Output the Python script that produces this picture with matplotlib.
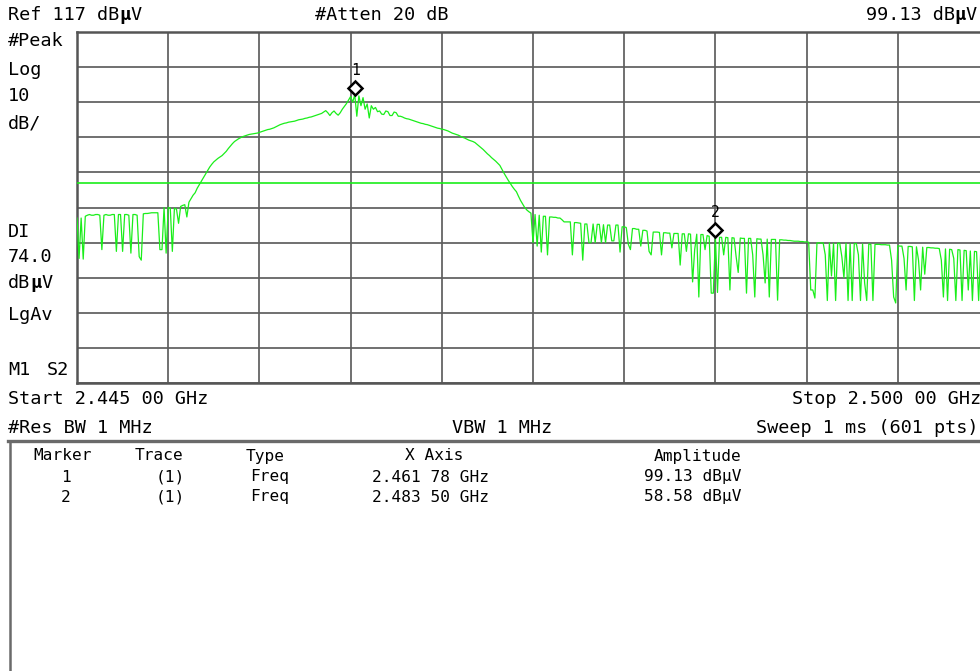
import numpy as np
import matplotlib
matplotlib.use("Agg")
import matplotlib.pyplot as plt
from matplotlib import transforms

# ---------------- data ----------------
START_GHZ = 2.445
STOP_GHZ = 2.500
REF_LEVEL = 117.0
DB_PER_DIV = 10.0
N_DIV = 10
DISPLAY_LINE = 74.0

trace_dbuv = [
    64.0, 52.5, 64.0, 52.3, 64.5, 64.8, 65.0, 64.8, 64.8, 65.0,   # 0
    65.0, 64.8, 55.0, 64.8, 65.0, 64.8, 64.8, 65.0, 65.0, 54.5,   # 10
    65.0, 65.0, 54.5, 65.0, 65.0, 64.8, 54.0, 65.0, 65.0, 64.8,   # 20
    53.0, 52.0, 65.2, 65.3, 65.3, 65.4, 65.5, 65.5, 65.5, 65.5,   # 30
    55.0, 55.0, 67.0, 54.0, 67.0, 66.8, 54.5, 66.8, 66.5, 62.5,   # 40
    67.3, 67.6, 67.8, 64.3, 68.5, 69.5, 70.5, 71.2, 72.5, 73.5,   # 50
    74.5, 75.5, 76.5, 77.5, 78.5, 79.3, 80.0, 80.5, 81.0, 81.4,   # 60
    81.8, 82.4, 83.0, 83.8, 84.5, 85.2, 85.8, 86.2, 86.6, 86.9,   # 70
    87.2, 87.4, 87.6, 87.8, 87.9, 88.0, 88.1, 88.2, 88.4, 88.6,   # 80
    88.8, 89.0, 89.2, 89.3, 89.5, 89.7, 90.0, 90.3, 90.6, 90.8,   # 90
    91.0, 91.1, 91.3, 91.4, 91.5, 91.6, 91.8, 92.0, 92.1, 92.2,   # 100
    92.4, 92.5, 92.7, 92.8, 93.0, 93.2, 93.4, 93.6, 93.8, 94.2,   # 110
    94.6, 94.0, 93.2, 94.0, 94.5, 93.8, 93.3, 94.0, 95.0, 95.8,   # 120
    96.6, 97.6, 98.6, 97.0, 99.13, 93.0, 98.8, 96.0, 98.3, 95.0,  # 130
    96.5, 92.5, 96.0, 95.0, 95.5, 94.3, 94.5, 93.6, 93.5, 94.5,   # 140
    94.3, 93.2, 93.2, 94.2, 94.0, 93.0, 93.0, 92.8, 92.5, 92.3,   # 150
    92.2, 92.0, 91.8, 91.6, 91.4, 91.2, 91.0, 90.9, 90.7, 90.6,   # 160
    90.4, 90.2, 90.0, 89.8, 89.6, 89.5, 89.3, 89.2, 89.0, 88.8,   # 170
    88.5, 88.2, 88.0, 87.8, 87.6, 87.3, 87.0, 86.8, 86.5, 86.2,   # 180
    86.0, 85.8, 85.5, 85.0, 84.5, 84.0, 83.5, 82.9, 82.3, 81.8,   # 190
    81.2, 80.7, 80.2, 79.6, 79.0, 77.9, 76.8, 75.8, 74.8, 73.9,   # 200
    73.0, 72.2, 71.5, 70.2, 69.0, 68.0, 67.0, 66.3, 65.8, 65.4,   # 210
    57.0, 65.0, 56.0, 64.8, 54.3, 64.5, 64.5, 53.5, 64.3, 64.3,   # 220
    64.2, 64.2, 64.0, 64.0, 63.5, 62.9, 62.9, 62.9, 62.9, 53.5,   # 230
    62.7, 62.7, 62.6, 62.5, 52.0, 62.3, 62.3, 57.0, 57.0, 62.3,   # 240
    57.0, 62.2, 62.2, 57.0, 62.1, 57.0, 62.0, 62.0, 57.5, 57.5,   # 250
    62.0, 62.0, 54.3, 61.5, 61.5, 61.3, 56.5, 55.0, 61.0, 61.0,   # 260
    60.8, 60.8, 56.0, 60.5, 60.5, 60.3, 54.5, 53.5, 60.0, 60.0,   # 270
    60.0, 59.9, 53.5, 59.8, 59.8, 59.7, 59.7, 55.5, 59.6, 59.6,   # 280
    59.6, 50.6, 59.5, 59.5, 54.5, 59.5, 59.4, 45.8, 55.0, 59.4,   # 290
    41.5, 59.3, 59.3, 55.0, 59.0, 58.8, 42.6, 42.6, 58.58, 42.8,  # 300
    58.5, 58.5, 53.5, 58.5, 58.4, 43.5, 58.4, 58.3, 53.0, 48.5,   # 310
    58.3, 58.2, 58.2, 42.6, 58.2, 58.2, 53.5, 41.5, 58.1, 58.0,   # 320
    58.0, 53.5, 45.5, 58.0, 41.5, 57.9, 57.9, 57.9, 40.6, 57.8,   # 330
    57.8, 57.7, 57.7, 57.6, 57.6, 57.5, 57.4, 57.4, 57.4, 57.3,   # 340
    57.3, 57.2, 57.2, 57.1, 43.5, 43.5, 41.2, 56.9, 56.9, 56.9,   # 350
    56.9, 53.5, 40.5, 56.9, 47.5, 56.8, 40.5, 56.8, 56.8, 53.0,   # 360
    47.0, 56.8, 40.5, 56.7, 40.5, 56.7, 56.7, 53.5, 40.5, 56.6,   # 370
    45.5, 40.5, 56.6, 56.5, 40.5, 56.5, 56.5, 56.5, 56.4, 56.4,   # 380
    56.4, 56.3, 56.3, 52.0, 41.5, 39.8, 56.1, 56.0, 56.0, 52.5,   # 390
    43.5, 55.9, 55.9, 55.8, 40.5, 55.8, 52.0, 43.5, 55.7, 48.0,   # 400
    55.6, 55.6, 55.5, 55.5, 55.4, 55.4, 55.3, 52.0, 41.5, 55.2,   # 410
    40.5, 55.1, 55.0, 52.5, 40.5, 55.0, 54.9, 40.5, 54.8, 54.7,   # 420
    43.5, 54.6, 40.5, 54.5, 54.4, 40.5, 54.3, 54.3, 54.2, 54.1,   # 430
    54.0,                                                         # 440
]

marker_ids = ["1", "2"]
marker_freq_ghz = [2.46178, 2.48350]
marker_amp_dbuv = [99.13, 58.58]
marker_trace = ["(1)", "(1)"]
marker_type = ["Freq", "Freq"]
marker_xaxis = ["2.461 78 GHz", "2.483 50 GHz"]
marker_amplitude = ["99.13 dB\u03bcV", "58.58 dB\u03bcV"]

# ---------------- figure ----------------
W, H = 980, 671
DPI = 100
fig = plt.figure(figsize=(W / DPI, H / DPI), dpi=DPI, facecolor="white")
FONT = "DejaVu Sans Mono"
GREEN = "#1aee1a"
GRID = "#5e5e5e"


def adv(size):
    return 0.602 * size * DPI / 72.0


def put(x, y, s, size=13.3, ha="left", weight="normal"):
    fig.text(x / W, 1 - y / H, s, fontsize=size, family=FONT, ha=ha,
             va="center", weight=weight, color="black")


def put_mu(x, y, before, after, size=13.3, right=False):
    """Text like 'Ref 117 dB' + bold mu + 'V'; x is left edge (or right edge)."""
    a = adv(size)
    total = len(before) + 1 + len(after)
    x0 = x - total * a if right else x
    put(x0, y, before, size)
    put(x0 + len(before) * a, y, "\u03bc", size, weight="bold")
    put(x0 + (len(before) + 1) * a, y, after, size)


# plot area (right edge falls just outside the picture, as in the screenshot)
left_px, top_px, bot_px, width_px = 77, 32, 383, 912
ax = fig.add_axes([left_px / W, 1 - bot_px / H, width_px / W, (bot_px - top_px) / H])
ax.set_xlim(START_GHZ, STOP_GHZ)
ax.set_ylim(REF_LEVEL - N_DIV * DB_PER_DIV, REF_LEVEL)
ax.set_xticks(np.linspace(START_GHZ, STOP_GHZ, N_DIV + 1))
ax.set_yticks(np.linspace(REF_LEVEL - N_DIV * DB_PER_DIV, REF_LEVEL, N_DIV + 1))
ax.tick_params(length=0, labelbottom=False, labelleft=False)
ax.grid(True, color=GRID, lw=1.25)
ax.set_axisbelow(True)
for sp in ax.spines.values():
    sp.set_color("#555555")
    sp.set_linewidth(1.8)

freqs = np.linspace(START_GHZ, STOP_GHZ, len(trace_dbuv))
ax.plot(freqs, trace_dbuv, color=GREEN, lw=0.9, zorder=3, clip_on=True)
ax.axhline(DISPLAY_LINE, color=GREEN, lw=1.2, zorder=3)

diamond_tr = transforms.offset_copy(ax.transData, fig=fig, y=5, units="points")
label_tr = transforms.offset_copy(ax.transData, fig=fig, y=17.5, units="points")
for mid, mf, ma in zip(marker_ids, marker_freq_ghz, marker_amp_dbuv):
    ax.plot([mf], [ma], marker="D", ms=7.5, mfc="white", mec="black", mew=1.8,
            transform=diamond_tr, zorder=5, clip_on=False)
    ax.text(mf, ma, mid, transform=label_tr, ha="center", va="center",
            fontsize=10.5, family=FONT, color="black", zorder=5)

# ---------------- annotations ----------------
put_mu(8, 15, "Ref 117 dB", "V")
put(315, 15, "#Atten 20 dB")
put_mu(977, 15, "99.13 dB", "V", right=True)

put(8, 41, "#Peak")
put(8, 70, "Log")
put(8, 96, "10")
put(8, 124, "dB/")
put(8, 232, "DI")
put(8, 257, "74.0")
put_mu(8, 283, "dB", "V")
put(8, 315, "LgAv")
put(8, 370, "M1")
put(47, 370, "S2")

put(8, 399, "Start 2.445 00 GHz")
put(792, 399, "Stop 2.500 00 GHz")
put(8, 428, "#Res BW 1 MHz")
put(452, 428, "VBW 1 MHz")
put(978, 428, "Sweep 1 ms (601 pts)", ha="right")

# marker table box
fig.add_artist(plt.Line2D([8 / W, 1.0], [1 - 441 / H, 1 - 441 / H], color="#6a6a6a", lw=2.4))
fig.add_artist(plt.Line2D([10 / W, 10 / W], [1 - 441 / H, 0.0], color="#6a6a6a", lw=1.8))

TS = 11.6
put(33, 456, "Marker", TS)
put(135, 456, "Trace", TS)
put(246, 456, "Type", TS)
put(434, 456, "X Axis", TS, ha="center")
put(741, 456, "Amplitude", TS, ha="right")
for k, y in enumerate([477, 497]):
    put(66, y, marker_ids[k], TS, ha="center")
    put(185, y, marker_trace[k], TS, ha="right")
    put(250, y, marker_type[k], TS)
    put(372, y, marker_xaxis[k], TS)
    put(741, y, marker_amplitude[k], TS, ha="right")

fig.savefig("out.png", dpi=DPI, facecolor="white")
